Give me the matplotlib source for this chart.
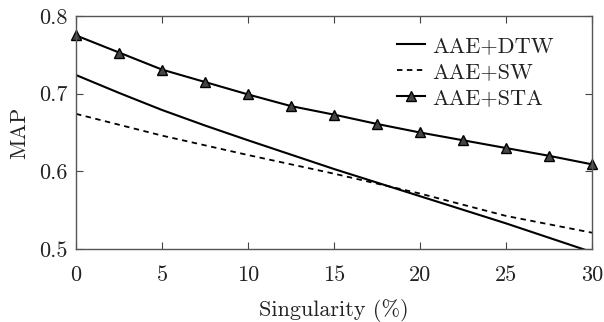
import matplotlib
matplotlib.use("Agg")
import matplotlib.pyplot as plt

plt.rcParams['font.family'] = ['cmr10', 'DejaVu Serif']
plt.rcParams['mathtext.fontset'] = 'cm'
plt.rcParams['axes.formatter.use_mathtext'] = True

x_sta = [0, 2.5, 5, 7.5, 10, 12.5, 15, 17.5, 20, 22.5, 25, 27.5, 30]
y_sta = [0.775, 0.753, 0.731, 0.715, 0.699, 0.684, 0.673, 0.661, 0.650, 0.640, 0.630, 0.620, 0.609]
x_dtw = [0, 2.5, 5, 7.5, 10, 12.5, 15, 20, 25, 30]
y_dtw = [0.724, 0.701, 0.679, 0.659, 0.640, 0.6215, 0.603, 0.568, 0.533, 0.496]
x_sw = [0, 5, 10, 15, 20, 25, 30]
y_sw = [0.674, 0.646, 0.621, 0.597, 0.5714, 0.5426, 0.521]
labels = ['AAE+DTW', 'AAE+SW', 'AAE+STA']
xticks = [0, 5, 10, 15, 20, 25, 30]
yticks = [0.5, 0.6, 0.7, 0.8]

text_color = '#222222'
fig = plt.figure(figsize=(6.04, 3.22), dpi=100)
ax = fig.add_axes([76/604, 1-249/322, (592-76)/604, (249-16)/322])
ax.plot(x_dtw, y_dtw, '-', color='black', lw=1.5, label=labels[0])
ax.plot(x_sw, y_sw, '--', color='black', lw=1.3, label=labels[1], dashes=(3, 2.5))
ax.plot(x_sta, y_sta, '-', color='black', lw=1.5, marker='^', ms=6.5,
        mfc='#444444', mec='black', mew=1.0, label=labels[2], clip_on=False)
ax.set_xlim(0, 30)
ax.set_ylim(0.5, 0.8)
ax.set_xticks(xticks)
ax.set_yticks(yticks)
ax.set_xticklabels([str(v) for v in xticks])
ax.set_yticklabels([f"{v:.1f}" for v in yticks])
ax.tick_params(direction='in', top=True, right=True, labelsize=16, length=5,
               color='#444444', labelcolor=text_color)
ax.tick_params(axis='x', pad=12)
ax.tick_params(axis='y', pad=6)
for s in ax.spines.values():
    s.set_color('#555555')
    s.set_linewidth(1.0)
ax.set_xlabel('Singularity (%)', fontsize=16, labelpad=10, color=text_color)
ax.set_ylabel('MAP', fontsize=16, labelpad=7, color=text_color)
leg = ax.legend(loc='upper right', bbox_to_anchor=(0.96, 0.99), frameon=False,
                fontsize=16, handlelength=1.27, handletextpad=0.3,
                labelspacing=0.3, borderaxespad=0.4, borderpad=0.4)
for t in leg.get_texts():
    t.set_color(text_color)
fig.savefig('out.png', dpi=100)
